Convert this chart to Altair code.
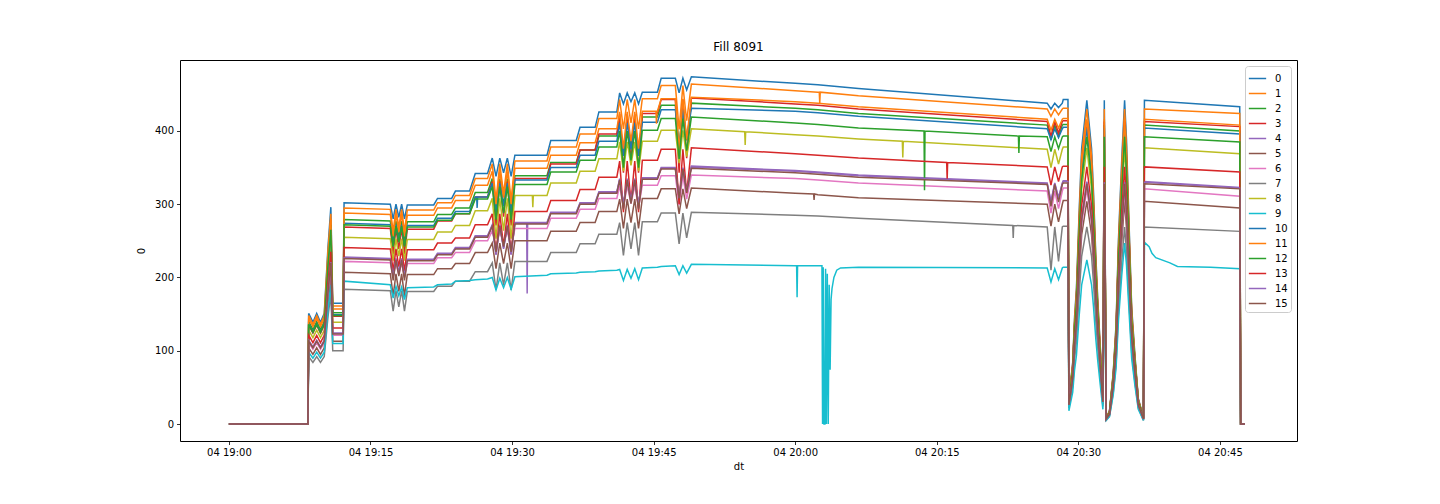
import altair as alt
import pandas as pd

# minutes after 04 19:00 (shared sample times)
T = [0.0, 8.37,
     8.45, 8.9, 9.3, 9.7, 10.1,
     10.5, 10.8,
     11.0, 12.1,
     12.2, 17.1, 17.4, 17.7, 18.0, 18.3, 18.6, 18.9, 21.7,
     22.1, 23.6, 24.0, 25.5, 26.1, 27.4,
     27.9, 28.3, 28.7, 29.1, 29.5, 29.9,
     30.3, 33.7, 34.1, 36.8, 37.2, 38.8, 39.2, 41.1,
     41.4, 41.8, 42.2, 42.6, 43.0, 43.4, 43.8, 45.4,
     45.8, 47.3, 47.7, 48.1, 48.5,
     49.0, 60.0, 62.4, 66.7, 86.7,
     87.1, 87.5, 87.9, 88.3,
     88.4, 88.9,
     89.0, 89.4, 89.6, 89.8, 90.1, 90.35, 90.9, 91.4, 91.6, 91.85, 92.05, 92.3, 92.6,
     92.75, 92.95,
     93.3, 93.7, 94.0, 94.25, 94.6, 94.9, 95.1, 95.35, 95.65, 96.0, 96.35, 96.9,
     97.0, 107.1, 107.2, 107.65]

S0 = [0, 0, 151, 139, 151, 139, 151, 242, 296, 165, 165,
      302, 300, 280, 300, 282, 300, 280, 299, 299,
      308, 308, 318, 318, 342, 342,
      363, 338, 363, 343, 363, 338,
      367, 367, 387, 387, 405, 405, 426, 426,
      452, 437, 452, 440, 452, 437, 453, 453,
      472, 472, 452, 472, 456,
      474, 465, 463, 458, 438,
      430, 438, 432, 438,
      443, 443,
      35, 84, 146, 186, 296, 376, 442, 376, 318, 230, 172, 111, 40,
      442, 9,
      18, 71, 137, 252, 362, 442, 389, 283, 159, 93, 35, 9,
      442, 433, 0, 0]
S1 = [0, 0, 148, 136, 148, 136, 148, 236, 287, 161, 161,
      295, 293, 263, 293, 269, 293, 263, 292, 292,
      302, 302, 312, 312, 335, 335,
      355, 305, 355, 315, 355, 305,
      359, 359, 378, 378, 396, 396, 417, 417,
      443, 403, 443, 411, 443, 403, 444, 444,
      462, 462, 402, 462, 414,
      464, 455, 453, 448, 430,
      420, 430, 422, 430,
      431, 431,
      34, 82, 142, 181, 288, 366, 430, 366, 310, 224, 168, 108, 39,
      430, 9,
      17, 69, 133, 245, 353, 430, 378, 275, 155, 90, 34, 9,
      430, 424, 0, 0]
S2 = [0, 0, 140, 129, 140, 129, 140, 223, 272, 152, 152,
      279, 277, 249, 277, 255, 277, 249, 276, 276,
      286, 286, 295, 295, 316, 316,
      335, 290, 335, 299, 335, 290,
      339, 339, 357, 357, 374, 374, 393, 393,
      418, 368, 418, 378, 418, 368, 419, 419,
      435, 435, 375, 435, 387,
      438, 431, 429, 424, 408,
      388, 408, 392, 408,
      409, 409,
      33, 78, 135, 171, 273, 347, 408, 347, 294, 212, 159, 102, 37,
      408, 8,
      16, 65, 126, 233, 335, 408, 359, 261, 147, 86, 33, 8,
      408, 400, 0, 0]
S3 = [0, 0, 135, 124, 135, 124, 135, 215, 262, 147, 147,
      269, 267, 232, 267, 239, 267, 232, 266, 266,
      277, 277, 287, 287, 310, 310,
      331, 271, 331, 283, 331, 271,
      335, 335, 355, 355, 374, 374, 396, 396,
      423, 343, 423, 359, 423, 343, 424, 424,
      443, 443, 343, 443, 363,
      445, 437, 435, 430, 413,
      393, 413, 397, 413,
      414, 414,
      33, 78, 136, 173, 277, 351, 413, 351, 297, 215, 161, 103, 37,
      413, 8,
      17, 66, 128, 235, 339, 413, 363, 264, 149, 87, 33, 8,
      413, 406, 0, 0]
S4 = [0, 0, 114, 105, 114, 105, 114, 182, 222, 124, 124,
      228, 226, 201, 226, 206, 226, 201, 225, 225,
      233, 233, 241, 241, 257, 257,
      272, 232, 272, 240, 272, 232,
      275, 275, 289, 289, 302, 302, 317, 317,
      335, 300, 335, 307, 335, 300, 336, 336,
      350, 350, 310, 350, 318,
      352, 346, 344, 340, 329,
      304, 329, 309, 329,
      332, 332,
      26, 63, 109, 139, 222, 281, 331, 281, 238, 172, 129, 83, 30,
      331, 7,
      13, 53, 103, 189, 271, 331, 291, 212, 119, 70, 26, 7,
      331, 323, 0, 0]
S5 = [0, 0, 104, 95, 104, 95, 104, 166, 201, 113, 113,
      207, 205, 175, 205, 181, 205, 175, 204, 204,
      212, 212, 219, 219, 234, 234,
      247, 212, 247, 219, 247, 212,
      250, 250, 263, 263, 275, 275, 290, 290,
      307, 267, 307, 275, 307, 267, 308, 308,
      321, 321, 287, 321, 294,
      322, 315, 313, 309, 300,
      270, 300, 276, 300,
      305, 305,
      24, 58, 100, 128, 204, 258, 304, 258, 219, 158, 119, 76, 27,
      304, 6,
      12, 49, 94, 173, 249, 304, 268, 195, 109, 64, 24, 6,
      304, 295, 0, 0]
S6 = [0, 0, 111, 102, 111, 102, 111, 178, 216, 121, 121,
      222, 220, 200, 220, 204, 220, 200, 219, 219,
      227, 227, 234, 234, 250, 250,
      264, 239, 264, 244, 264, 239,
      267, 267, 281, 281, 293, 293, 308, 308,
      325, 295, 325, 301, 325, 295, 326, 326,
      339, 339, 299, 339, 307,
      340, 335, 333, 329, 318,
      288, 318, 294, 318,
      322, 322,
      26, 61, 106, 135, 215, 273, 321, 273, 231, 167, 125, 80, 29,
      321, 6,
      13, 51, 100, 183, 263, 321, 282, 205, 116, 67, 26, 6,
      321, 311, 0, 0]
S7 = [0, 0, 92, 84, 92, 84, 92, 147, 178, 100, 100,
      184, 182, 154, 182, 160, 182, 154, 181, 181,
      188, 188, 195, 195, 208, 208,
      220, 183, 220, 190, 220, 183,
      222, 222, 234, 234, 246, 246, 259, 259,
      275, 230, 275, 239, 275, 230, 276, 276,
      288, 288, 246, 288, 254,
      289, 285, 284, 281, 269,
      210, 269, 222, 269,
      270, 270,
      22, 51, 89, 113, 180, 229, 269, 229, 194, 140, 105, 67, 24,
      269, 5,
      11, 43, 83, 153, 221, 269, 237, 172, 97, 56, 22, 5,
      269, 263, 0, 0]
S8 = [0, 0, 128, 118, 128, 118, 128, 204, 249, 139, 139,
      255, 253, 223, 253, 229, 253, 223, 252, 252,
      262, 262, 271, 271, 291, 291,
      308, 253, 308, 264, 308, 253,
      312, 312, 329, 329, 345, 345, 362, 362,
      385, 345, 385, 353, 385, 345, 386, 386,
      401, 401, 356, 401, 365,
      403, 395, 393, 389, 375,
      350, 375, 355, 375,
      378, 378,
      30, 72, 124, 158, 253, 320, 377, 320, 271, 196, 147, 94, 34,
      377, 8,
      15, 60, 117, 215, 309, 377, 332, 241, 136, 79, 30, 8,
      377, 369, 0, 0]
S9 = [0, 0, 98, 90, 98, 90, 98, 156, 190, 110, 110,
      195, 190, 172, 188, 175, 187, 170, 186, 187,
      190, 191, 195, 196, 197, 198,
      200, 183, 199, 186, 200, 184,
      201, 203, 205, 206, 207, 208, 209, 210,
      211, 196, 211, 199, 212, 197, 213, 214,
      215, 216, 204, 216, 206,
      218, 216, 216, 214, 213,
      194, 212, 197, 213,
      214, 214,
      18, 43, 74, 94, 150, 190, 224, 190, 161, 116, 87, 56, 20,
      224, 5,
      10, 40, 77, 141, 203, 247, 217, 158, 89, 52, 20, 5,
      248, 212, 0, 0]
S10 = [0, 0, 137, 126, 137, 126, 137, 219, 267, 149, 149,
       274, 272, 244, 272, 250, 272, 244, 271, 271,
       281, 281, 290, 290, 310, 310,
       329, 289, 329, 297, 329, 289,
       333, 333, 350, 350, 367, 367, 386, 386,
       411, 366, 411, 375, 411, 366, 412, 412,
       429, 429, 379, 429, 389,
       431, 427, 425, 420, 403,
       388, 403, 391, 403,
       405, 405,
       32, 77, 133, 170, 271, 343, 404, 343, 291, 210, 158, 101, 36,
       404, 8,
       16, 65, 125, 230, 331, 404, 356, 259, 145, 85, 32, 8,
       404, 396, 0, 0]
S11 = [0, 0, 144, 133, 144, 133, 144, 230, 280, 157, 157,
       288, 286, 256, 286, 262, 286, 256, 285, 285,
       295, 295, 305, 305, 326, 326,
       345, 300, 345, 309, 345, 300,
       349, 349, 367, 367, 384, 384, 403, 403,
       426, 376, 426, 386, 426, 376, 427, 427,
       444, 444, 374, 444, 388,
       446, 440, 438, 433, 416,
       401, 416, 404, 416,
       417, 417,
       33, 79, 137, 175, 279, 354, 416, 354, 300, 216, 162, 104, 37,
       416, 8,
       17, 67, 129, 237, 341, 416, 366, 266, 150, 87, 33, 8,
       416, 408, 0, 0]
S12 = [0, 0, 136, 125, 136, 125, 136, 218, 265, 148, 148,
       272, 270, 242, 270, 248, 270, 242, 269, 269,
       278, 278, 287, 287, 307, 307,
       324, 279, 324, 288, 324, 279,
       327, 327, 344, 344, 360, 360, 378, 378,
       400, 350, 400, 360, 400, 350, 401, 401,
       417, 417, 362, 417, 373,
       419, 411, 409, 404, 392,
       372, 392, 376, 392,
       393, 393,
       31, 74, 129, 165, 263, 333, 392, 333, 282, 204, 153, 98, 35,
       392, 8,
       16, 63, 122, 223, 321, 392, 345, 251, 141, 82, 31, 8,
       392, 385, 0, 0]
S13 = [0, 0, 121, 111, 121, 111, 121, 193, 235, 131, 131,
       241, 239, 209, 239, 215, 239, 209, 238, 238,
       247, 247, 254, 254, 272, 272,
       287, 232, 287, 243, 287, 232,
       290, 290, 305, 305, 320, 320, 337, 337,
       359, 289, 359, 303, 359, 289, 360, 360,
       375, 375, 300, 375, 315,
       377, 369, 367, 363, 351,
       326, 351, 331, 351,
       352, 352,
       28, 67, 116, 147, 235, 298, 351, 298, 253, 183, 137, 88, 32,
       351, 7,
       14, 56, 109, 200, 288, 351, 309, 225, 126, 74, 28, 7,
       351, 344, 0, 0]
S14 = [0, 0, 114, 105, 114, 105, 114, 182, 221, 124, 124,
       227, 225, 202, 225, 207, 225, 202, 224, 224,
       232, 232, 240, 240, 256, 256,
       271, 231, 271, 239, 271, 231,
       274, 274, 288, 288, 301, 301, 316, 316,
       334, 299, 334, 306, 334, 299, 335, 335,
       349, 349, 309, 349, 317,
       351, 345, 343, 339, 328,
       303, 328, 308, 328,
       331, 331,
       26, 63, 109, 139, 221, 281, 330, 281, 238, 172, 129, 83, 30,
       330, 7,
       13, 53, 102, 188, 271, 330, 290, 211, 119, 69, 26, 7,
       330, 322, 0, 0]
S15 = [0, 0, 113, 104, 113, 104, 113, 181, 220, 123, 123,
       226, 224, 196, 224, 202, 224, 196, 223, 223,
       231, 231, 239, 239, 255, 255,
       270, 235, 270, 242, 270, 235,
       273, 273, 287, 287, 300, 300, 315, 315,
       333, 293, 333, 301, 333, 293, 334, 334,
       348, 348, 308, 348, 316,
       349, 343, 341, 337, 327,
       297, 327, 303, 327,
       329, 329,
       26, 62, 108, 138, 220, 279, 328, 279, 236, 171, 128, 82, 30,
       328, 7,
       13, 52, 102, 187, 269, 328, 289, 210, 118, 69, 26, 7,
       328, 321, 0, 0]

SERIES = ["0", "1", "2", "3", "4", "5", "6", "7",
          "8", "9", "10", "11", "12", "13", "14", "15"]
VALUES = [S0, S1, S2, S3, S4, S5, S6, S7, S8, S9, S10, S11, S12, S13, S14, S15]

# isolated spikes / dips: (minutes, value)
EXTRA = {
    "9": [(60.15, 216), (60.2, 173), (60.25, 216), (62.83, 216), (62.9, 0), (62.97, 214),
          (63.05, 0), (63.15, 0), (63.22, 212), (63.3, 0), (63.4, 205), (63.5, 0),
          (63.6, 190), (63.7, 74), (63.8, 170), (63.9, 185), (64.1, 200), (64.4, 210),
          (64.8, 213), (97.5, 242), (97.8, 233), (98.2, 227), (99.7, 220), (100.5, 215),
          (104.0, 214)],
    "7": [(83.05, 271), (83.1, 254), (83.15, 271)],
    "4": [(31.55, 275), (31.6, 178), (31.65, 275)],
    "8": [(32.15, 312), (32.2, 296), (32.25, 312), (54.65, 399), (54.7, 381), (54.75, 399),
          (71.35, 386), (71.4, 364), (71.45, 386)],
    "12": [(73.65, 400), (73.7, 319), (73.75, 400), (83.65, 393), (83.7, 370), (83.75, 393)],
    "13": [(76.05, 357), (76.1, 334), (76.15, 357)],
    "1": [(62.55, 453), (62.6, 438), (62.65, 453)],
    "5": [(61.95, 314), (62.0, 306), (62.05, 314)],
    "11": [(45.25, 427), (45.3, 410), (45.35, 427)],
    "10": [(26.25, 310), (26.3, 295), (26.35, 310)],
}

COLORS = ["#1f77b4", "#ff7f0e", "#2ca02c", "#d62728", "#9467bd", "#8c564b", "#e377c2",
          "#7f7f7f", "#bcbd22", "#17becf", "#1f77b4", "#ff7f0e", "#2ca02c", "#d62728",
          "#9467bd", "#8c564b"]

TICK_LABELS = ["19:00", "19:15", "19:30", "19:45", "20:00", "20:15", "20:30", "20:45"]
Y_TICKS = [0, 100, 200, 300, 400]

base = pd.Timestamp("2022-08-04 19:00:00")
rows = []
for key, vals in zip(SERIES, VALUES):
    pts = list(zip(T, vals)) + EXTRA.get(key, [])
    pts.sort(key=lambda p: p[0])
    for t, v in pts:
        ts = base + pd.Timedelta(seconds=round(t * 60))
        rows.append({"dt": ts.strftime("%Y-%m-%dT%H:%M:%S"), "series": key, "value": v})
df = pd.DataFrame(rows)


def dtobj(hh, mm, ss=0):
    return alt.DateTime(year=2022, month=8, date=4, hours=hh, minutes=mm, seconds=ss)


tick_vals = [dtobj(int(s[:2]), int(s[3:])) for s in TICK_LABELS]

FONT = "DejaVu Sans"

chart = alt.Chart(df).mark_line(strokeWidth=1.5).encode(
    x=alt.X("dt:T",
            scale=alt.Scale(domain=[dtobj(18, 54, 49), dtobj(20, 53, 10)], nice=False),
            axis=alt.Axis(title="dt", values=tick_vals, format="%d %H:%M",
                          labelPadding=3, titlePadding=4)),
    y=alt.Y("value:Q",
            scale=alt.Scale(domain=[-23.2, 496.9], nice=False, zero=False),
            axis=alt.Axis(title="0", values=Y_TICKS, labelPadding=3, titlePadding=8)),
    color=alt.Color("series:N",
                    scale=alt.Scale(domain=SERIES, range=COLORS),
                    sort=SERIES,
                    legend=alt.Legend(title=None, orient="top-right", offset=6,
                                      symbolType="stroke", symbolSize=300,
                                      symbolStrokeWidth=1.5, labelFontSize=10,
                                      labelFont=FONT, labelColor="black",
                                      labelOffset=8, rowPadding=0, padding=3,
                                      fillColor="white", strokeColor="#cccccc",
                                      cornerRadius=3)),
).properties(
    width=1117, height=381,
    title=alt.Title("Fill 8091", fontSize=12, font=FONT, fontWeight="normal",
                    color="black", anchor="middle", offset=6),
    autosize="none",
    padding={"left": 172, "top": 52, "right": 135, "bottom": 55},
).configure_view(
    stroke="black", strokeWidth=1
).configure_axis(
    grid=False, domain=False, tickColor="black", tickSize=3.5, tickWidth=0.8,
    labelFont=FONT, labelFontSize=10, labelColor="black",
    titleFont=FONT, titleFontSize=10, titleFontWeight="normal", titleColor="black"
)

chart.save("out.html", embed_options={"renderer": "svg", "actions": False})
